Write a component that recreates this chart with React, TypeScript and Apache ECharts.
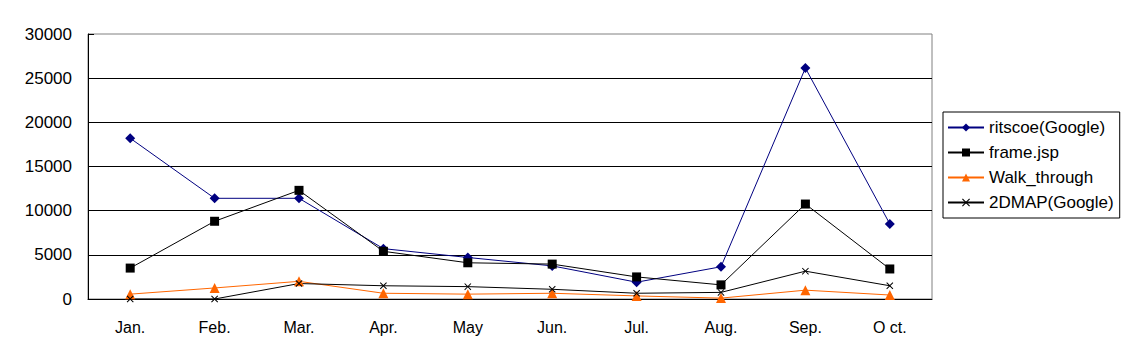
import React, { useEffect, useRef } from "react";
import * as echarts from "echarts";

const months = ["Jan.", "Feb.", "Mar.", "Apr.", "May", "Jun.", "Jul.", "Aug.", "Sep.", "O ct."];
const ritscoe = [18200, 11400, 11400, 5700, 4700, 3750, 1900, 3650, 26150, 8500];
const frameJsp = [3500, 8800, 12300, 5400, 4100, 3950, 2500, 1600, 10750, 3400];
const walkThrough = [550, 1250, 2000, 650, 550, 650, 350, 100, 1000, 450];
const map2d = [0, 0, 1750, 1500, 1400, 1100, 650, 750, 3150, 1500];
const yTicks = [0, 5000, 10000, 15000, 20000, 25000, 30000];

const FONT = "'Liberation Sans', Arial, sans-serif";
const crossPath =
  "path://M0,1 L1,0 L5,4 L9,0 L10,1 L6,5 L10,9 L9,10 L5,6 L1,10 L0,9 L4,5 Z";

export default function App() {
  const ref = useRef<HTMLDivElement>(null);
  useEffect(() => {
    if (!ref.current) return;
    const chart = echarts.init(ref.current, undefined, { renderer: "svg" });
    const mk = (name: string, data: number[], color: string, symbol: string, size: number) => ({
      name,
      type: "line",
      data,
      symbol,
      symbolSize: size,
      showAllSymbol: true,
      itemStyle: { color },
      lineStyle: { color, width: 1 },
      emphasis: { disabled: true },
    });
    chart.setOption({
      animation: false,
      backgroundColor: "#ffffff",
      textStyle: { fontFamily: FONT },
      grid: {
        left: 88,
        top: 34,
        right: 206,
        bottom: 60,
        show: true,
        borderColor: "#808080",
        borderWidth: 1,
      },
      legend: {
        orient: "vertical",
        left: 943,
        top: 112,
        width: 175,
        height: 106,
        padding: [7, 6, 7, 4],
        itemGap: 8,
        itemWidth: 36,
        itemHeight: 10,
        borderColor: "#000",
        borderWidth: 1,
        textStyle: { fontFamily: FONT, fontSize: 17, color: "#000" },
        data: ["ritscoe(Google)", "frame.jsp", "Walk_through", "2DMAP(Google)"],
      },
      xAxis: {
        type: "category",
        data: months,
        boundaryGap: true,
        axisLine: { lineStyle: { color: "#000", width: 1 } },
        axisTick: { inside: true, length: 5, lineStyle: { color: "#000" } },
        axisLabel: { color: "#000", fontSize: 16, fontFamily: FONT, margin: 20 },
        splitLine: { show: false },
      },
      yAxis: {
        type: "value",
        min: yTicks[0],
        max: yTicks[yTicks.length - 1],
        interval: yTicks[1] - yTicks[0],
        axisLine: { show: true, lineStyle: { color: "#000", width: 1 } },
        axisTick: { show: true, inside: true, length: 6, lineStyle: { color: "#000" } },
        axisLabel: {
          color: "#000",
          fontSize: 17,
          fontFamily: FONT,
          margin: 16,
          formatter: (v: number) => String(v),
        },
        splitLine: { show: true, showMaxLine: false, lineStyle: { color: "#000", width: 1 } },
      },
      series: [
        mk("ritscoe(Google)", ritscoe, "#000080", "diamond", 10),
        mk("frame.jsp", frameJsp, "#000000", "rect", 9),
        mk("Walk_through", walkThrough, "#FF6600", "triangle", 10),
        mk("2DMAP(Google)", map2d, "#000000", crossPath, 7),
      ],
    });
    return () => chart.dispose();
  }, []);
  return (
    <div
      ref={ref}
      style={{ position: "fixed", left: 0, top: 0, width: 1138, height: 359, background: "#fff" }}
    />
  );
}
